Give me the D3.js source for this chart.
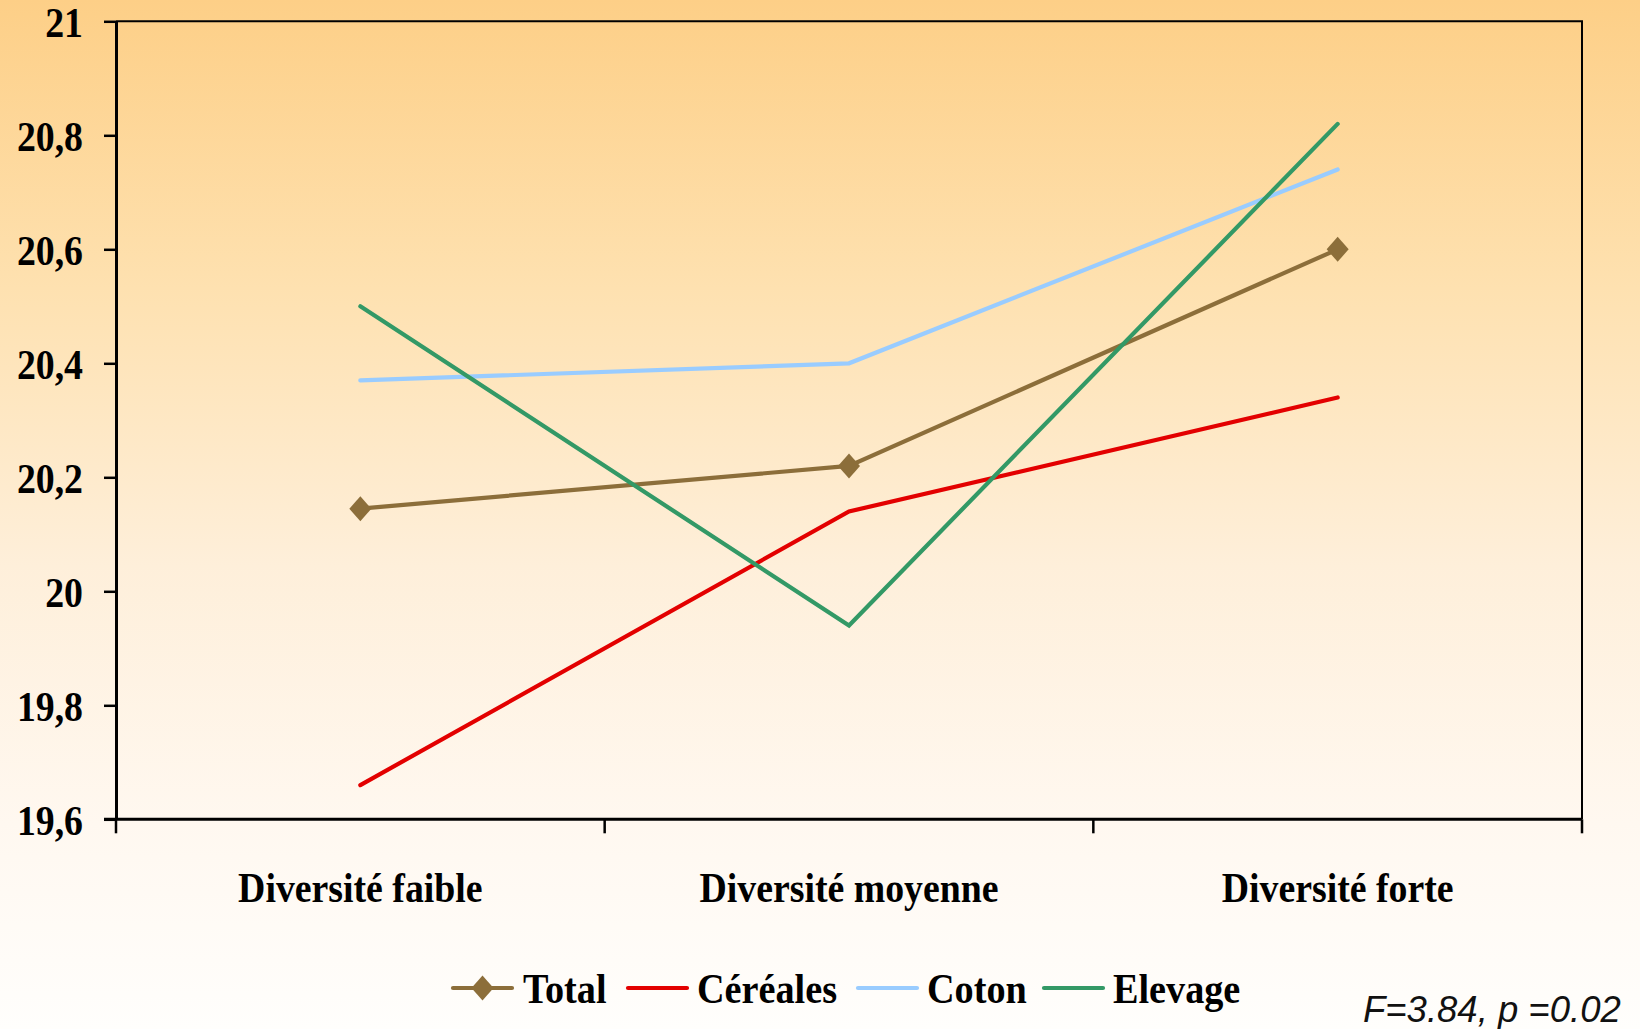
<!DOCTYPE html>
<html>
<head>
<meta charset="utf-8">
<script src="https://cdn.jsdelivr.net/npm/d3@7/dist/d3.min.js"></script>
<style>
  html, body { margin: 0; padding: 0; background: #fff; }
  svg { display: block; }
  .serif { font-family: "Liberation Serif", "Times New Roman", serif; font-weight: bold; fill: #000; }
</style>
</head>
<body>
<svg id="chart" width="1640" height="1029"></svg>
<script>
// Categories along the x axis
const categories = ["Diversité faible", "Diversité moyenne", "Diversité forte"];

// Series values, one per category
const seriesNames = ["Total", "Céréales", "Coton", "Elevage"];
const totalValues    = [20.145, 20.22, 20.60];
const cerealesValues = [19.66, 20.14, 20.34];
const cotonValues    = [20.37, 20.40, 20.74];
const elevageValues  = [20.50, 19.94, 20.82];

// Y axis ticks and their labels
const yTicks      = [19.6, 19.8, 20, 20.2, 20.4, 20.6, 20.8, 21];
const yTickLabels = ["19,6", "19,8", "20", "20,2", "20,4", "20,6", "20,8", "21"];

const statText = "F=3.84, p =0.02";

const colors = {
  "Total": "#8c6e3a",
  "Céréales": "#e30000",
  "Coton": "#99ccff",
  "Elevage": "#339966"
};

const series = [
  { name: "Total", values: totalValues },
  { name: "Céréales", values: cerealesValues },
  { name: "Coton", values: cotonValues },
  { name: "Elevage", values: elevageValues }
];

const W = 1640, H = 1029;
const plot = { left: 116, right: 1582, top: 21.3, bottom: 819.3 };
const SX = 0.9; // horizontal squeeze of the bold serif labels

const svg = d3.select("#chart");

// Background gradient, warm orange at the top fading to white
const defs = svg.append("defs");
const grad = defs.append("linearGradient")
  .attr("id", "bg").attr("x1", 0).attr("y1", 0).attr("x2", 0).attr("y2", 1);
[[0, "#fdcf87"], [0.28, "#fee1b0"], [0.55, "#feefda"], [0.8, "#fff8f0"], [1, "#fffefc"]]
  .forEach(([o, c]) => grad.append("stop").attr("offset", o).attr("stop-color", c));
svg.append("rect").attr("width", W).attr("height", H).attr("fill", "url(#bg)");

const x = d3.scaleBand().domain(categories).range([plot.left, plot.right]).padding(0);
const y = d3.scaleLinear().domain([19.6, 21]).range([plot.bottom, plot.top]);
const cx = c => x(c) + x.bandwidth() / 2;

// Plot frame: top and right edges
svg.append("path")
  .attr("d", `M${plot.left},${y(21)}H${plot.right}V${plot.bottom}`)
  .attr("fill", "none").attr("stroke", "#000").attr("stroke-width", 2);

// Y axis
const yAxis = d3.axisLeft(y)
  .tickValues(yTicks)
  .tickFormat((d, i) => yTickLabels[i])
  .tickSize(12)
  .tickSizeOuter(0);
const gy = svg.append("g").attr("transform", `translate(${plot.left},0)`).call(yAxis);
gy.select(".domain").attr("stroke", "#000").attr("stroke-width", 3);
gy.selectAll(".tick line").attr("stroke", "#000").attr("stroke-width", 2.5);
gy.selectAll(".tick text").remove();
gy.selectAll(".tick").append("text")
  .attr("class", "serif")
  .attr("text-anchor", "end")
  .attr("font-size", 42)
  .attr("transform", `translate(-33,15.5) scale(${SX},1)`)
  .text((d, i) => yTickLabels[i]);

// X axis with ticks at the category boundaries
const boundaries = categories.map(c => x(c)).concat([plot.right]);
const gx = svg.append("g").attr("transform", `translate(0,${plot.bottom})`);
gx.append("line").attr("x1", plot.left - 12).attr("x2", plot.right)
  .attr("stroke", "#000").attr("stroke-width", 3);
gx.selectAll("line.tk").data(boundaries).join("line").attr("class", "tk")
  .attr("x1", d => d).attr("x2", d => d).attr("y1", 0).attr("y2", 14)
  .attr("stroke", "#000").attr("stroke-width", 2.5);
gx.selectAll("text").data(categories).join("text")
  .attr("class", "serif")
  .attr("text-anchor", "middle")
  .attr("font-size", 42)
  .attr("transform", d => `translate(${cx(d)},${902 - plot.bottom}) scale(${SX},1)`)
  .text(d => d);

// Series lines
const line = d3.line().x((d, i) => cx(categories[i])).y(d => y(d));
const gLines = svg.append("g");
series.forEach(s => {
  gLines.append("path")
    .datum(s.values)
    .attr("d", line)
    .attr("fill", "none")
    .attr("stroke", colors[s.name])
    .attr("stroke-width", 4.2)
    .attr("stroke-linecap", "round")
    .attr("stroke-linejoin", "miter");
});

// Diamond markers on the Total series
const diamond = (w, h) => `M0,${-h}L${w},0L0,${h}L${-w},0Z`;
svg.append("g").selectAll("path")
  .data(totalValues)
  .join("path")
  .attr("transform", (d, i) => `translate(${cx(categories[i])},${y(d)})`)
  .attr("d", diamond(11, 12.5))
  .attr("fill", colors["Total"]);

// Legend
const legendY = 988;
const legendItems = [
  { name: "Total", x0: 453, x1: 512, tx: 523 },
  { name: "Céréales", x0: 628, x1: 687, tx: 697 },
  { name: "Coton", x0: 858, x1: 917, tx: 927 },
  { name: "Elevage", x0: 1044, x1: 1103, tx: 1113 }
];
const gl = svg.append("g");
legendItems.forEach(it => {
  gl.append("line")
    .attr("x1", it.x0).attr("x2", it.x1).attr("y1", legendY).attr("y2", legendY)
    .attr("stroke", colors[it.name]).attr("stroke-width", 4.2).attr("stroke-linecap", "round");
  if (it.name === "Total") {
    gl.append("path")
      .attr("transform", `translate(${(it.x0 + it.x1) / 2},${legendY})`)
      .attr("d", diamond(11, 12.5))
      .attr("fill", colors[it.name]);
  }
  gl.append("text")
    .attr("class", "serif")
    .attr("font-size", 42)
    .attr("transform", `translate(${it.tx},1003) scale(0.91,1)`)
    .text(it.name);
});

// Statistic note
svg.append("text")
  .attr("x", 1363).attr("y", 1022)
  .attr("font-family", "'Liberation Sans', Arial, sans-serif")
  .attr("font-style", "italic")
  .attr("font-size", 36.5)
  .attr("fill", "#111")
  .text(statText);
</script>
</body>
</html>
